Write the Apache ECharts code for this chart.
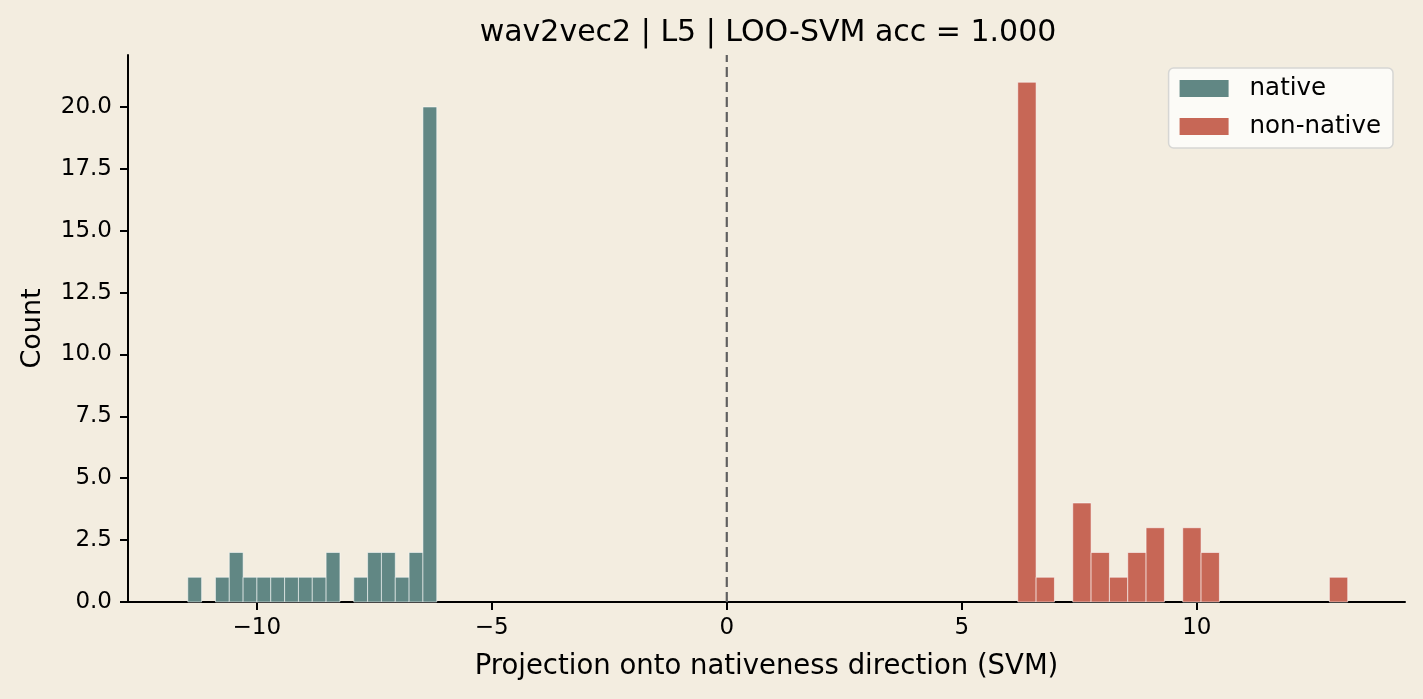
<!DOCTYPE html>
<html>
<head>
<meta charset="utf-8">
<script src="https://cdn.jsdelivr.net/npm/echarts@6/dist/echarts.min.js"></script>
<style>
  html, body { margin: 0; padding: 0; background: #f3ede0; }
  #chart { width: 1423px; height: 699px; }
</style>
</head>
<body>
<div id="chart"></div>
<script>
// histogram bins
var nativeBinStart = -11.468;
var nativeBinWidth = 0.2943;
var nativeCounts = [1, 0, 1, 2, 1, 1, 1, 1, 1, 1, 2, 0, 1, 2, 2, 1, 2, 20];

var nonNativeBinStart = 6.191;
var nonNativeBinWidth = 0.39;
var nonNativeCounts = [21, 1, 0, 4, 2, 1, 2, 3, 0, 3, 2, 0, 0, 0, 0, 0, 0, 1];

var seriesNames = ['native', 'non-native'];
var xTicks = [-10, -5, 0, 5, 10];
var yTicks = [0, 2.5, 5, 7.5, 10, 12.5, 15, 17.5, 20];
var yMax = 22.1;
var decisionLine = [[0, 0], [0, yMax]];

var FONT = 'DejaVu Sans';

function binsToData(start, width, counts) {
  var out = [];
  for (var i = 0; i < counts.length; i++) {
    out.push([start + i * width, start + (i + 1) * width, counts[i]]);
  }
  return out;
}

function renderBar(params, api) {
  var h = api.value(2);
  if (!h) return;
  var p0 = api.coord([api.value(0), h]);
  var p1 = api.coord([api.value(1), 0]);
  return {
    type: 'rect',
    shape: { x: p0[0], y: p0[1], width: p1[0] - p0[0], height: p1[1] - p0[1] },
    style: { fill: api.visual('color'), stroke: 'rgba(255,255,255,0.55)', lineWidth: 1 }
  };
}

var myChart = echarts.init(document.getElementById('chart'));
var option = {
  backgroundColor: '#f3ede0',
  animation: false,
  title: {
    text: 'wav2vec2 | L5 | LOO-SVM acc = 1.000',
    left: 763,
    textAlign: 'center',
    top: 13,
    textStyle: { fontFamily: FONT, fontSize: 30, fontWeight: 'normal', color: '#000' }
  },
  legend: {
    data: seriesNames,
    orient: 'vertical',
    right: 30,
    top: 68,
    icon: 'rect',
    itemWidth: 49,
    itemHeight: 17,
    itemGap: 13,
    padding: [8, 12, 9, 11],
    backgroundColor: '#fcfbf7',
    borderColor: '#d6d6d4',
    borderWidth: 1.5,
    borderRadius: 5,
    textStyle: { fontFamily: FONT, fontSize: 24.5, color: '#000', padding: [0, 0, 0, 16] }
  },
  grid: { left: 128, right: 18, top: 55, bottom: 97 },
  xAxis: {
    type: 'value',
    min: -12.74,
    max: 14.43,
    name: 'Projection onto nativeness direction (SVM)',
    nameLocation: 'middle',
    nameGap: 51,
    nameTextStyle: { fontFamily: FONT, fontSize: 27.5, color: '#000' },
    splitLine: { show: false },
    axisLine: { onZero: false, lineStyle: { color: '#000', width: 2 } },
    axisTick: { customValues: xTicks, length: 8, lineStyle: { color: '#000', width: 2 } },
    axisLabel: {
      customValues: xTicks,
      margin: 15,
      fontFamily: FONT, fontSize: 23, color: '#000',
      formatter: function (v) { return String(v).replace('-', '\u2212'); }
    }
  },
  yAxis: {
    type: 'value',
    min: 0,
    max: yMax,
    name: 'Count',
    nameLocation: 'middle',
    nameRotate: 90,
    nameGap: 82,
    nameTextStyle: { fontFamily: FONT, fontSize: 27, color: '#000' },
    splitLine: { show: false },
    axisLine: { show: true, onZero: false, lineStyle: { color: '#000', width: 2 } },
    axisTick: { show: true, customValues: yTicks, length: 8, lineStyle: { color: '#000', width: 2 } },
    axisLabel: {
      customValues: yTicks,
      margin: 16,
      fontFamily: FONT, fontSize: 23, color: '#000',
      formatter: function (v) { return v.toFixed(1); }
    }
  },
  series: [
    {
      name: seriesNames[0],
      type: 'custom',
      renderItem: renderBar,
      itemStyle: { color: '#618784' },
      encode: { x: [0, 1], y: 2 },
      data: binsToData(nativeBinStart, nativeBinWidth, nativeCounts)
    },
    {
      name: seriesNames[1],
      type: 'custom',
      renderItem: renderBar,
      itemStyle: { color: '#c76756' },
      encode: { x: [0, 1], y: 2 },
      data: binsToData(nonNativeBinStart, nonNativeBinWidth, nonNativeCounts)
    },
    {
      name: 'boundary',
      type: 'line',
      data: decisionLine,
      symbol: 'none',
      silent: true,
      z: 1,
      lineStyle: { color: '#606060', width: 2.2, type: [10, 5] }
    }
  ]
};
myChart.setOption(option);

window.addEventListener('resize', function () {
  if (myChart != null && myChart != undefined) {
    myChart.resize();
  }
});
</script>
</body>
</html>
